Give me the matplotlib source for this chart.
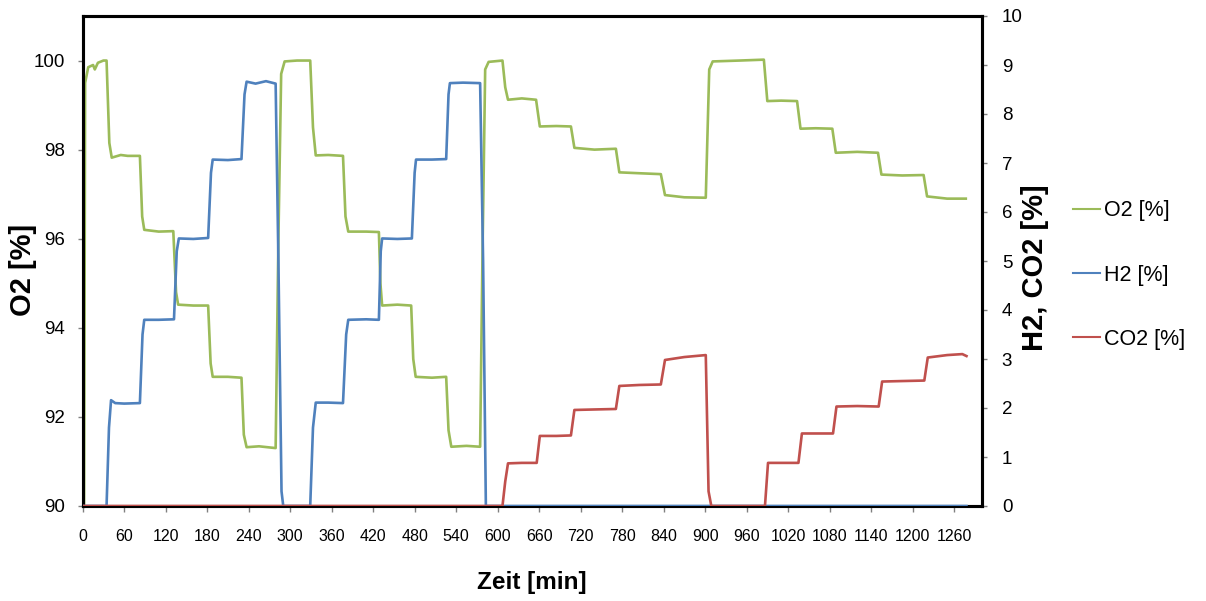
import matplotlib
matplotlib.use("Agg")
import matplotlib.pyplot as plt
from matplotlib import font_manager
from matplotlib.lines import Line2D

# ---------------- data ----------------
o2_t = [0, 2, 3.5, 8, 15, 17.5, 22, 30, 34.5, 38.5, 42, 55, 65, 82.7, 86, 89,
        110, 131, 135, 138, 160, 181.4, 185, 188, 210, 229.6, 233, 237, 255, 279,
        283, 287, 292, 310, 329, 333, 337, 355, 376.4, 380, 384, 410, 428.3, 430.5,
        433, 455, 475, 478, 481.5, 505, 525.6, 529, 533, 555, 574.7, 578, 582, 587,
        607, 611, 615, 635, 655.6, 661, 685, 706, 711, 740, 771, 776, 805, 836, 842,
        870, 901, 906, 911, 950, 985, 990, 1010, 1033, 1038, 1060, 1084, 1089, 1120,
        1150, 1155, 1185, 1216, 1221, 1250, 1277]
o2_v = [90, 90, 99.5, 99.85, 99.9, 99.8, 99.95, 100, 100, 98.15, 97.82, 97.88, 97.86, 97.86, 96.5, 96.2,
        96.16, 96.17, 94.8, 94.52, 94.5, 94.5, 93.2, 92.9, 92.9, 92.88, 91.6, 91.32, 91.34, 91.3,
        96.0, 99.7, 99.98, 100, 100, 98.5, 97.87, 97.88, 97.86, 96.5, 96.16, 96.16, 96.15, 95.0,
        94.5, 94.52, 94.5, 93.3, 92.9, 92.88, 92.9, 91.7, 91.33, 91.35, 91.33, 95.5, 99.8, 99.97,
        100, 99.4, 99.12, 99.15, 99.12, 98.52, 98.53, 98.52, 98.04, 98.0, 98.02, 97.49, 97.47, 97.45, 96.98,
        96.93, 96.92, 99.8, 99.98, 100, 100.02, 99.09, 99.1, 99.09, 98.47, 98.48, 98.47, 97.93, 97.95,
        97.93, 97.44, 97.42, 97.43, 96.95, 96.9, 96.9]

h2_t = [0, 34.5, 38, 41, 47, 60, 82.7, 86.5, 89, 110, 132, 136, 139, 160, 181.4, 185.5,
        188, 210, 229.6, 234, 237, 250, 265, 279, 283, 287.5, 290, 329, 333, 337, 355,
        376.4, 381, 384, 410, 428.3, 431, 433, 455, 476, 480, 482, 505, 525.6, 529, 531,
        550, 574.7, 579, 583, 1278]
h2_v = [0, 0, 1.6, 2.16, 2.1, 2.09, 2.1, 3.5, 3.8, 3.8, 3.81, 5.2, 5.46, 5.45, 5.47, 6.8,
        7.07, 7.06, 7.08, 8.4, 8.66, 8.62, 8.67, 8.62, 5.0, 0.3, 0, 0, 1.6, 2.11, 2.11,
        2.1, 3.5, 3.8, 3.81, 3.8, 5.2, 5.46, 5.45, 5.46, 6.8, 7.07, 7.07, 7.08, 8.4, 8.63,
        8.64, 8.63, 5.0, 0, 0]

co2_t = [0, 607, 611, 615, 635, 656.5, 661, 685, 706, 711, 740, 771, 776, 805, 836, 842,
         870, 901, 905, 909, 986.6, 991, 1010, 1035, 1040, 1060, 1085, 1090, 1120, 1151,
         1156, 1185, 1217, 1222, 1250, 1272, 1278]
co2_v = [0, 0, 0.5, 0.87, 0.88, 0.88, 1.43, 1.43, 1.44, 1.96, 1.97, 1.98, 2.45, 2.47, 2.48, 2.98,
         3.04, 3.08, 0.3, 0, 0, 0.88, 0.88, 0.88, 1.48, 1.48, 1.48, 2.03, 2.04, 2.03,
         2.54, 2.55, 2.56, 3.03, 3.08, 3.1, 3.06]

x_ticks = list(range(0, 1261, 60))
left_ticks = [90, 92, 94, 96, 98, 100]
right_ticks = list(range(0, 11))
labels = ["O2 [%]", "H2 [%]", "CO2 [%]"]

# ---------------- style ----------------
GREEN = "#9BBB59"
BLUE = "#4F81BD"
RED = "#C0504D"

names = {f.name for f in font_manager.fontManager.ttflist}
if "Liberation Sans Narrow" in names:
    NF = ["Liberation Sans Narrow", "DejaVu Sans"]
    ytick_fs, xtick_fs, leg_fs, xlab_fs = 16, 14, 18, 21.5
else:
    NF = ["Liberation Sans", "DejaVu Sans"]
    ytick_fs, xtick_fs, leg_fs, xlab_fs = 13.5, 11.5, 15.5, 17.5
BF = ["Liberation Sans", "DejaVu Sans"]

W, H = 1206, 601
fig = plt.figure(figsize=(W / 100, H / 100), dpi=100)
L, R, T, B = 82.7, 981.7, 16, 506
ax = fig.add_axes([L / W, 1 - B / H, (R - L) / W, (B - T) / H])
ax2 = ax.twinx()

ax.plot(o2_t, o2_v, color=GREEN, lw=1.9, solid_joinstyle="round", zorder=3)
ax2.plot(h2_t, h2_v, color=BLUE, lw=1.9, solid_joinstyle="round", zorder=3)
ax2.plot(co2_t, co2_v, color=RED, lw=1.9, solid_joinstyle="round", zorder=4)

ax.set_xlim(0, 1300)
ax.set_ylim(90, 101)
ax2.set_ylim(0, 10)
ax.set_xticks(x_ticks)
ax.set_yticks(left_ticks)
ax2.set_yticks(right_ticks)

for a in (ax, ax2):
    for s in a.spines.values():
        s.set_color("black")
        s.set_linewidth(2.2)

ax.tick_params(axis="x", direction="out", length=4.5, width=1, color="#808080",
               pad=12, labelsize=xtick_fs)
ax.tick_params(axis="y", direction="out", length=3.5, width=1, color="#808080",
               pad=9, labelsize=ytick_fs)
ax2.tick_params(axis="y", direction="out", length=3.5, width=1, color="#808080",
                pad=11, labelsize=ytick_fs)
for lab in ax.get_xticklabels() + ax.get_yticklabels() + ax2.get_yticklabels():
    lab.set_family(NF)

fig.text(23 / W, 1 - 270 / H, "O2 [%]", rotation=90, ha="center", va="center",
         fontsize=21, fontweight="bold", family=BF)
fig.text(1035 / W, 1 - 268 / H, "H2, CO2 [%]", rotation=90, ha="center", va="center",
         fontsize=21, fontweight="bold", family=BF)
fig.text(532 / W, 1 - 582 / H, "Zeit [min]", ha="center", va="center",
         fontsize=xlab_fs, fontweight="bold", family=NF)

handles = [Line2D([], [], color=c, lw=1.5) for c in (GREEN, BLUE, RED)]
fig.legend(handles, labels, loc="center left", bbox_to_anchor=(1073 / W, 1 - 275 / H),
           frameon=False, prop={"family": NF, "size": leg_fs}, handlelength=1.25,
           handletextpad=0.2, labelspacing=2.0, borderpad=0, borderaxespad=0)

fig.savefig("out.png", dpi=100, facecolor="white")
